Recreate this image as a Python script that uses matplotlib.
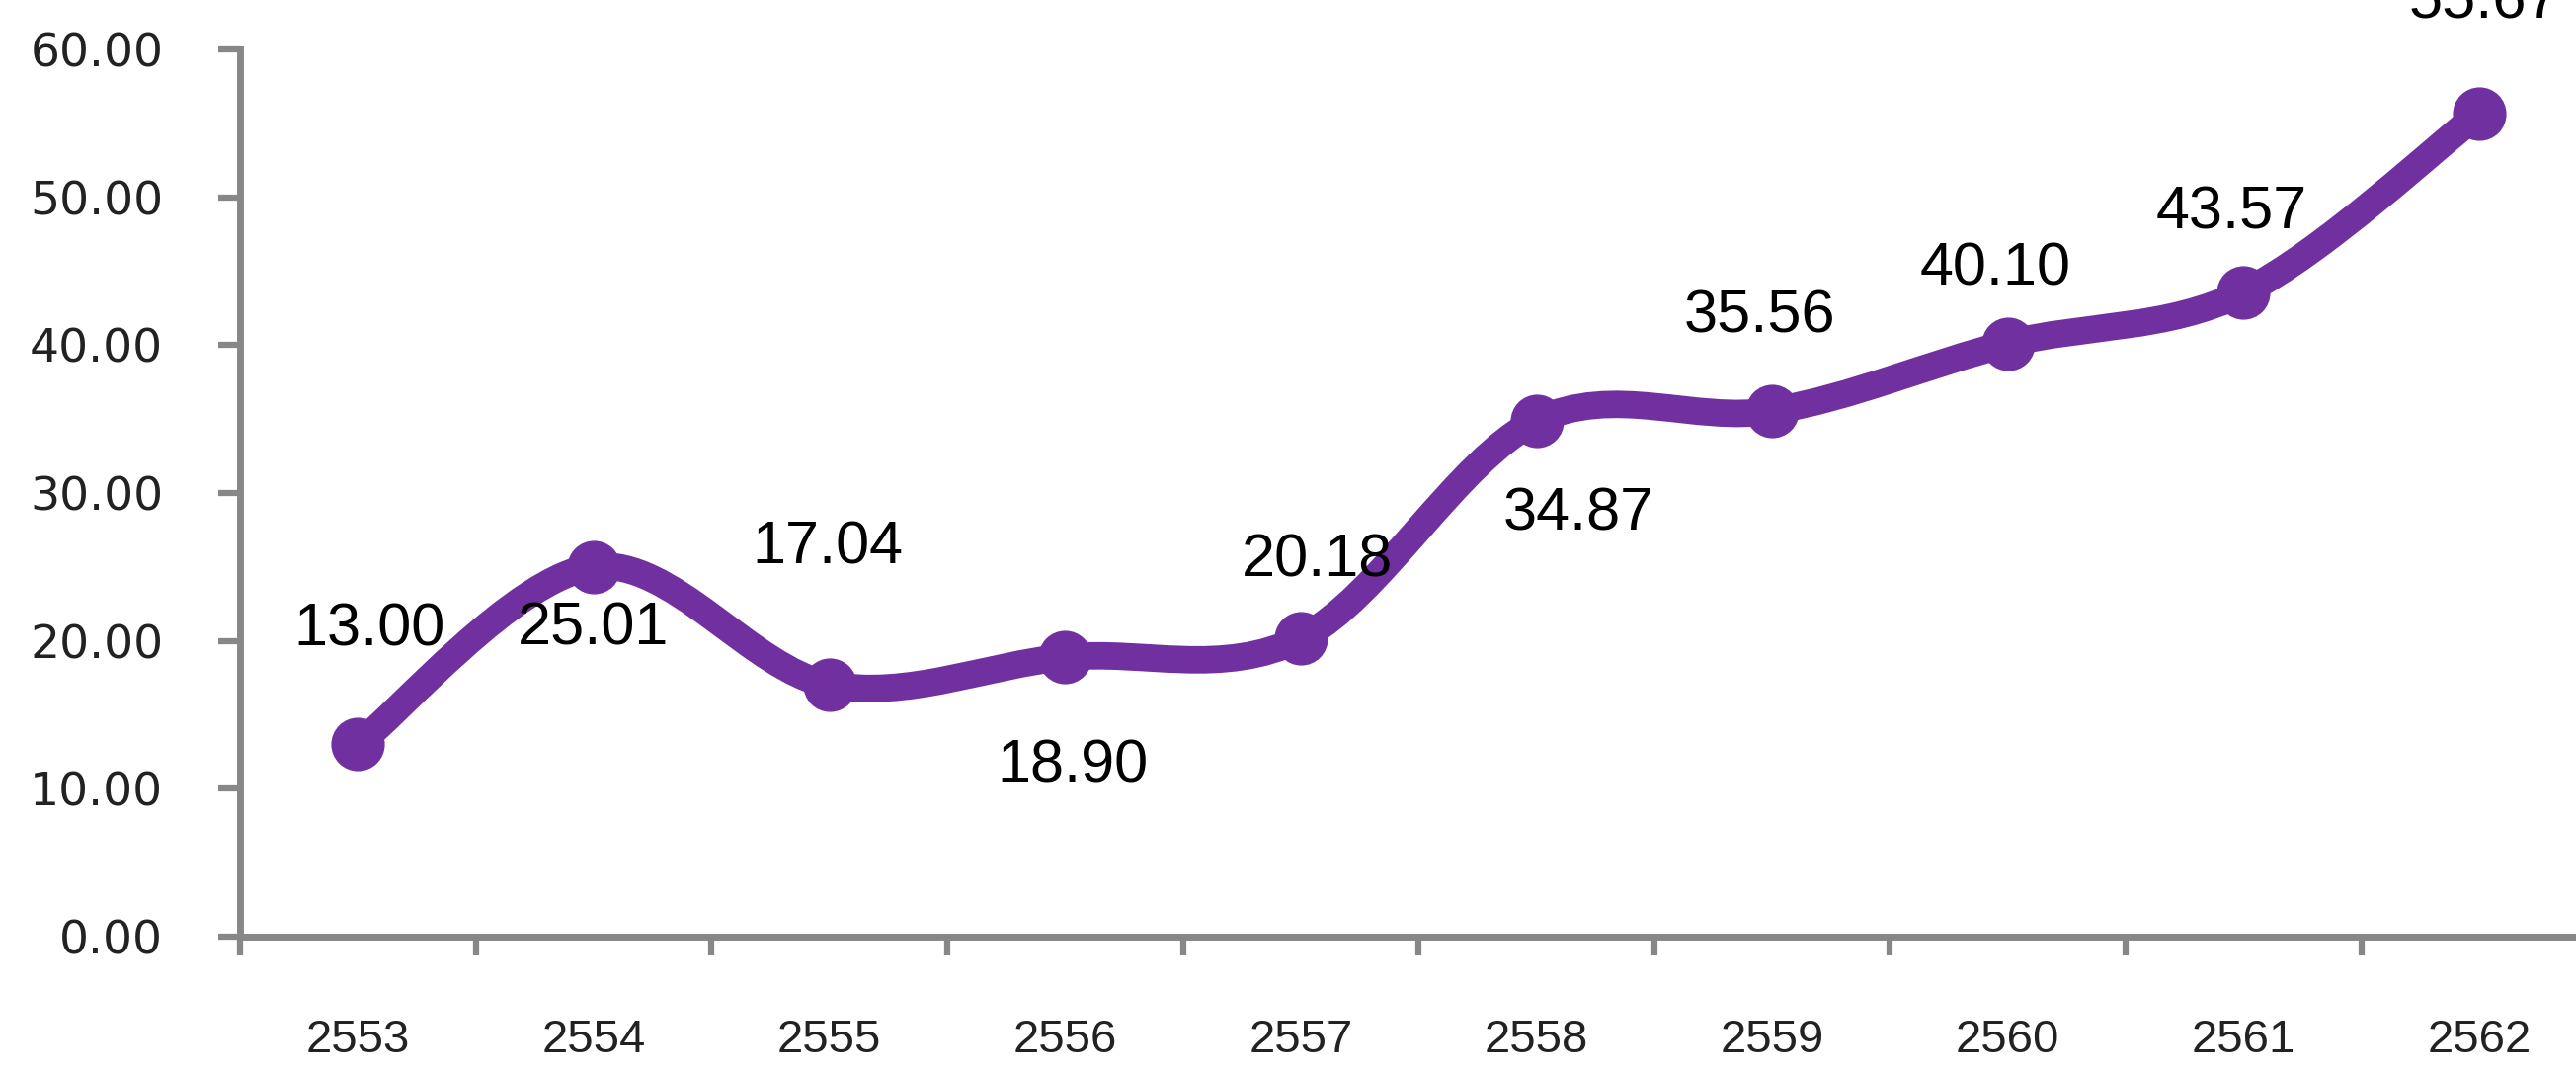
import matplotlib
matplotlib.use('Agg')
import matplotlib.pyplot as plt
from matplotlib.path import Path
from matplotlib.patches import PathPatch

years = ['2553', '2554', '2555', '2556', '2557', '2558', '2559', '2560', '2561', '2562']
values = [13.00, 25.01, 17.04, 18.90, 20.18, 34.87, 35.56, 40.10, 43.57, 55.67]
y_ticks = [0, 10, 20, 30, 40, 50, 60]

# label offsets in pixels (dx, dy), picked by eye
offsets = [(12, 115), (0, -63), (-2, 138), (8, -111), (17, 78),
           (43, -95), (-13, 95), (-13, 75), (-12, 80), (5, 112)]

purple = '#7030A0'
grey = '#878787'

fig = plt.figure(figsize=(26.08, 10.86), dpi=100)
ax = fig.add_axes([0.0932, 0.127, 0.915, 0.827])

x = list(range(len(values)))

# smooth line like excel: bezier segments through the points
verts = [(x[0], values[0])]
codes = [Path.MOVETO]
n = len(values)
for i in range(n - 1):
    x0, y0 = x[max(i - 1, 0)], values[max(i - 1, 0)]
    x1, y1 = x[i], values[i]
    x2, y2 = x[i + 1], values[i + 1]
    x3, y3 = x[min(i + 2, n - 1)], values[min(i + 2, n - 1)]
    c1 = (x1 + (x2 - x0) / 6, y1 + (y2 - y0) / 6)
    c2 = (x2 - (x3 - x1) / 6, y2 - (y3 - y1) / 6)
    verts += [c1, c2, (x2, y2)]
    codes += [Path.CURVE4, Path.CURVE4, Path.CURVE4]
ax.add_patch(PathPatch(Path(verts, codes), facecolor='none', edgecolor=purple,
                       lw=20, capstyle='round', joinstyle='round', zorder=3))
ax.plot(x, values, 'o', color=purple, markersize=38, zorder=4)

for i, v in enumerate(values):
    ax.annotate('%.2f' % v, (x[i], v), xytext=offsets[i], textcoords='offset pixels',
                ha='center', va='center', fontsize=44, family='Liberation Sans',
                color='black', annotation_clip=False, zorder=5)

ax.set_xlim(-0.5, n - 0.5)
ax.set_ylim(0, 60)
ax.set_yticks(y_ticks)
ax.set_yticklabels(['%.2f' % t for t in y_ticks], fontsize=34, color='#222222')
ax.set_xticks(x)
ax.set_xticklabels(years, fontsize=34, family='Liberation Sans', color='#222222')
ax.set_xticks([i - 0.5 for i in range(n + 1)], minor=True)

ax.tick_params(axis='y', length=16, width=4.5, color=grey, pad=40)
ax.tick_params(axis='x', which='major', length=0, pad=60)
ax.tick_params(axis='x', which='minor', length=14, width=4.5, color=grey)

for s in ['top', 'right']:
    ax.spines[s].set_visible(False)
for s in ['left', 'bottom']:
    ax.spines[s].set_color(grey)
    ax.spines[s].set_linewidth(5)

fig.savefig('out.png', dpi=100)
